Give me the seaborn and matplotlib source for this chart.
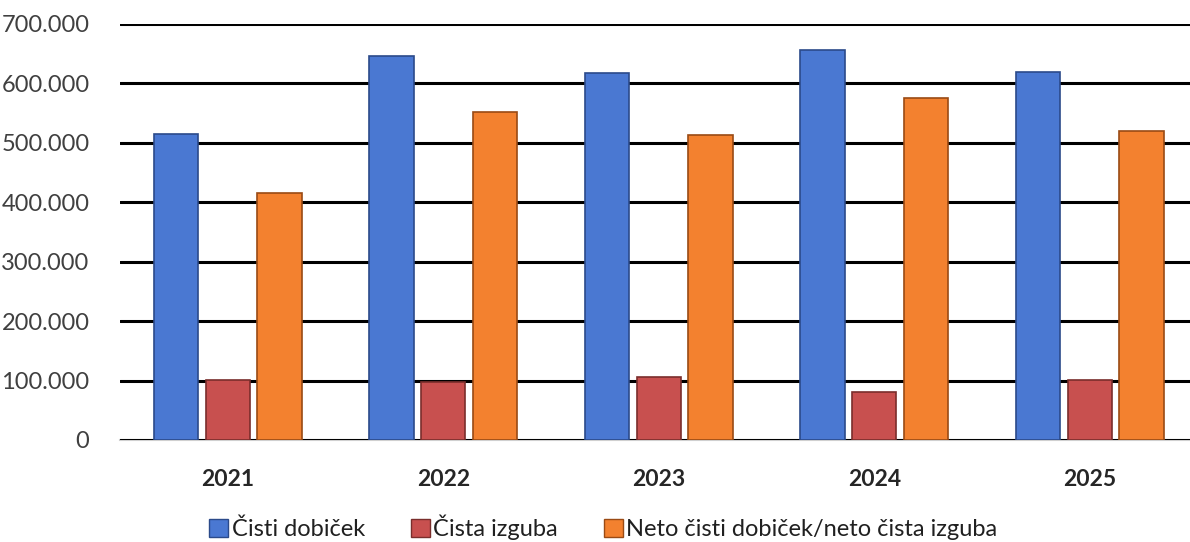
import matplotlib
matplotlib.use("Agg")
import matplotlib.pyplot as plt
from matplotlib.ticker import FuncFormatter
from matplotlib.patches import Patch
import seaborn as sns
import pandas as pd

# Data
years = ["2021", "2022", "2023", "2024", "2025"]
series = ["Čisti dobiček", "Čista izguba", "Neto čisti dobiček/neto čista izguba"]
cisti_dobicek = [515000, 646000, 617000, 656000, 619000]
cista_izguba = [101000, 98000, 106000, 81000, 101000]
neto = [416000, 552000, 513000, 575000, 520000]

colors = ["#4A78D2", "#C8504F", "#F3812F"]
edges = ["#2B4A8A", "#7A2E2C", "#9A4A14"]

rows = []
for name, vals in zip(series, [cisti_dobicek, cista_izguba, neto]):
    for y, v in zip(years, vals):
        rows.append({"year": y, "series": name, "value": v})
df = pd.DataFrame(rows)

sns.set_style("white")
plt.rcParams["font.family"] = ["Lato", "DejaVu Sans"]

fig = plt.figure(figsize=(11.9, 5.42), dpi=100)
ax = fig.add_axes([120 / 1190, 1 - 440 / 542, 1077.5 / 1190, 416 / 542])

sns.barplot(data=df, x="year", y="value", hue="series", hue_order=series,
            palette=colors, width=0.72, gap=0.14, ax=ax, legend=False,
            saturation=1, errorbar=None)

# darker outline per series for a bit of the bevel look
for cont, ec in zip(ax.containers, edges):
    for bar in cont:
        bar.set_edgecolor(ec)
        bar.set_linewidth(1.2)

ax.set_ylim(0, 700000)
ax.set_xlim(-0.5, 4.5)
ax.set_yticks(range(0, 700001, 100000))
ax.yaxis.set_major_formatter(FuncFormatter(lambda v, p: f"{int(v):,}".replace(",", ".")))
ax.grid(axis="y", color="black", linewidth=2.2)
ax.set_axisbelow(True)
for s in ["top", "right", "left"]:
    ax.spines[s].set_visible(False)
ax.spines["bottom"].set_color("#d0d0d0")
ax.spines["bottom"].set_linewidth(1.5)
ax.spines["bottom"].set_zorder(0)

ax.set_xlabel("")
ax.set_ylabel("")
ax.tick_params(axis="y", length=0, labelsize=17, labelcolor="#404040", pad=22)
ax.tick_params(axis="x", length=0, labelsize=16.5, pad=21)
for lbl in ax.get_xticklabels():
    lbl.set_fontweight("bold")

handles = [Patch(facecolor=c, edgecolor=e, label=n) for c, e, n in zip(colors, edges, series)]
fig.legend(handles=handles, loc="lower center", bbox_to_anchor=(0.507, -0.036), ncol=3,
           frameon=False, fontsize=17, handlelength=0.8, handleheight=0.8,
           handletextpad=0.15, columnspacing=1.95, labelcolor="#202020")

fig.savefig("out.png", dpi=100)
